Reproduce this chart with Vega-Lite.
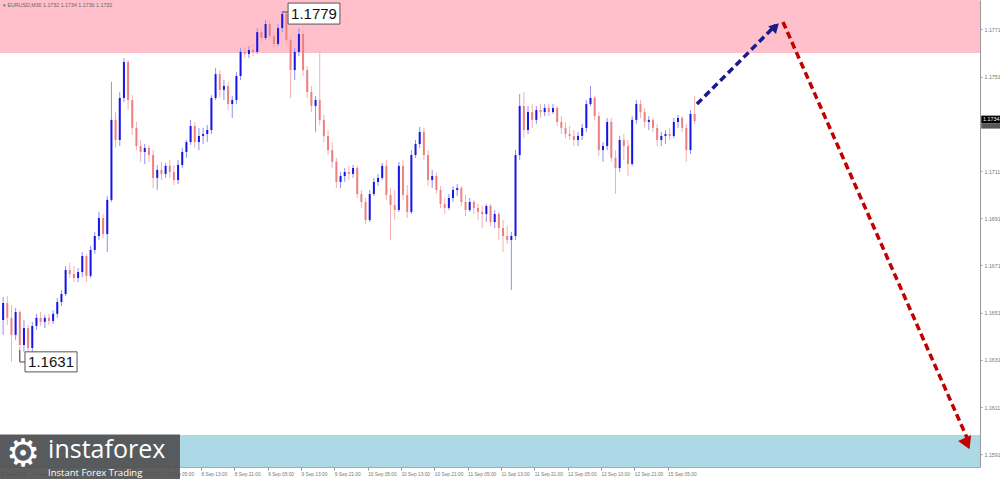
{
"$schema":"https://vega.github.io/schema/vega-lite/v6.json",
"width":980,"height":467,
"autosize":{"type":"none"},
"padding":{"left":0,"top":0,"right":20,"bottom":12},
"background":"white",
"config":{"view":{"stroke":null},"font":"Liberation Sans","scale":{"continuousPadding":0}},
"datasets":{
"candles":[
{"i":1,"o":1.16479,"h":1.16577,"l":1.16416,"c":1.16551},
{"i":3,"o":1.16551,"h":1.16581,"l":1.16458,"c":1.16488},
{"i":5,"o":1.16488,"h":1.16543,"l":1.16301,"c":1.16416},
{"i":7,"o":1.16416,"h":1.16530,"l":1.16394,"c":1.16513},
{"i":9,"o":1.16513,"h":1.16521,"l":1.16305,"c":1.16373},
{"i":11,"o":1.16373,"h":1.16479,"l":1.16344,"c":1.16445},
{"i":13,"o":1.16445,"h":1.16458,"l":1.16344,"c":1.16360},
{"i":15,"o":1.16360,"h":1.16471,"l":1.16344,"c":1.16454},
{"i":17,"o":1.16454,"h":1.16505,"l":1.16437,"c":1.16488},
{"i":19,"o":1.16488,"h":1.16513,"l":1.16454,"c":1.16471},
{"i":21,"o":1.16471,"h":1.16500,"l":1.16445,"c":1.16488},
{"i":23,"o":1.16488,"h":1.16505,"l":1.16458,"c":1.16475},
{"i":25,"o":1.16475,"h":1.16521,"l":1.16462,"c":1.16505},
{"i":27,"o":1.16505,"h":1.16572,"l":1.16488,"c":1.16555},
{"i":29,"o":1.16555,"h":1.16606,"l":1.16538,"c":1.16589},
{"i":31,"o":1.16589,"h":1.16708,"l":1.16581,"c":1.16691},
{"i":33,"o":1.16691,"h":1.16721,"l":1.16657,"c":1.16674},
{"i":35,"o":1.16674,"h":1.16708,"l":1.16640,"c":1.16657},
{"i":37,"o":1.16657,"h":1.16699,"l":1.16640,"c":1.16682},
{"i":39,"o":1.16682,"h":1.16767,"l":1.16661,"c":1.16750},
{"i":41,"o":1.16750,"h":1.16759,"l":1.16640,"c":1.16666},
{"i":43,"o":1.16666,"h":1.16793,"l":1.16657,"c":1.16776},
{"i":45,"o":1.16776,"h":1.16852,"l":1.16759,"c":1.16835},
{"i":47,"o":1.16835,"h":1.16937,"l":1.16818,"c":1.16911},
{"i":49,"o":1.16911,"h":1.16928,"l":1.16827,"c":1.16843},
{"i":51,"o":1.16843,"h":1.17004,"l":1.16767,"c":1.16988},
{"i":53,"o":1.16988,"h":1.17488,"l":1.16979,"c":1.17327},
{"i":55,"o":1.17327,"h":1.17360,"l":1.17208,"c":1.17242},
{"i":57,"o":1.17242,"h":1.17445,"l":1.17216,"c":1.17420},
{"i":59,"o":1.17420,"h":1.17589,"l":1.17403,"c":1.17572},
{"i":61,"o":1.17572,"h":1.17581,"l":1.17369,"c":1.17411},
{"i":63,"o":1.17411,"h":1.17432,"l":1.17263,"c":1.17293},
{"i":65,"o":1.17293,"h":1.17318,"l":1.17199,"c":1.17216},
{"i":67,"o":1.17216,"h":1.17242,"l":1.17149,"c":1.17191},
{"i":69,"o":1.17191,"h":1.17225,"l":1.17140,"c":1.17208},
{"i":71,"o":1.17208,"h":1.17221,"l":1.17149,"c":1.17178},
{"i":73,"o":1.17178,"h":1.17199,"l":1.17038,"c":1.17081},
{"i":75,"o":1.17081,"h":1.17136,"l":1.17030,"c":1.17115},
{"i":77,"o":1.17115,"h":1.17149,"l":1.17072,"c":1.17098},
{"i":79,"o":1.17098,"h":1.17144,"l":1.17081,"c":1.17132},
{"i":81,"o":1.17132,"h":1.17157,"l":1.17081,"c":1.17106},
{"i":83,"o":1.17106,"h":1.17136,"l":1.17051,"c":1.17072},
{"i":85,"o":1.17072,"h":1.17157,"l":1.17055,"c":1.17136},
{"i":87,"o":1.17136,"h":1.17208,"l":1.17123,"c":1.17191},
{"i":89,"o":1.17191,"h":1.17242,"l":1.17166,"c":1.17233},
{"i":91,"o":1.17233,"h":1.17327,"l":1.17221,"c":1.17301},
{"i":93,"o":1.17301,"h":1.17318,"l":1.17208,"c":1.17233},
{"i":95,"o":1.17233,"h":1.17293,"l":1.17199,"c":1.17259},
{"i":97,"o":1.17259,"h":1.17293,"l":1.17225,"c":1.17267},
{"i":99,"o":1.17267,"h":1.17305,"l":1.17233,"c":1.17284},
{"i":101,"o":1.17284,"h":1.17432,"l":1.17267,"c":1.17420},
{"i":103,"o":1.17420,"h":1.17547,"l":1.17411,"c":1.17521},
{"i":105,"o":1.17521,"h":1.17538,"l":1.17420,"c":1.17454},
{"i":107,"o":1.17454,"h":1.17496,"l":1.17411,"c":1.17471},
{"i":109,"o":1.17471,"h":1.17488,"l":1.17369,"c":1.17394},
{"i":111,"o":1.17394,"h":1.17428,"l":1.17335,"c":1.17411},
{"i":113,"o":1.17411,"h":1.17530,"l":1.17394,"c":1.17513},
{"i":115,"o":1.17513,"h":1.17632,"l":1.17496,"c":1.17615},
{"i":117,"o":1.17615,"h":1.17640,"l":1.17589,"c":1.17606},
{"i":119,"o":1.17606,"h":1.17640,"l":1.17589,"c":1.17623},
{"i":121,"o":1.17623,"h":1.17649,"l":1.17598,"c":1.17615},
{"i":123,"o":1.17615,"h":1.17716,"l":1.17606,"c":1.17699},
{"i":125,"o":1.17699,"h":1.17716,"l":1.17649,"c":1.17674},
{"i":127,"o":1.17674,"h":1.17750,"l":1.17665,"c":1.17733},
{"i":129,"o":1.17733,"h":1.17750,"l":1.17665,"c":1.17682},
{"i":131,"o":1.17682,"h":1.17699,"l":1.17632,"c":1.17649},
{"i":133,"o":1.17649,"h":1.17733,"l":1.17640,"c":1.17716},
{"i":135,"o":1.17716,"h":1.17788,"l":1.17699,"c":1.17776},
{"i":137,"o":1.17776,"h":1.17784,"l":1.17644,"c":1.17665},
{"i":139,"o":1.17665,"h":1.17682,"l":1.17420,"c":1.17538},
{"i":141,"o":1.17538,"h":1.17632,"l":1.17496,"c":1.17615},
{"i":143,"o":1.17615,"h":1.17716,"l":1.17598,"c":1.17691},
{"i":145,"o":1.17691,"h":1.17708,"l":1.17513,"c":1.17538},
{"i":147,"o":1.17538,"h":1.17555,"l":1.17420,"c":1.17445},
{"i":149,"o":1.17445,"h":1.17471,"l":1.17360,"c":1.17386},
{"i":151,"o":1.17386,"h":1.17428,"l":1.17276,"c":1.17411},
{"i":153,"o":1.17411,"h":1.17615,"l":1.17305,"c":1.17327},
{"i":155,"o":1.17327,"h":1.17348,"l":1.17233,"c":1.17259},
{"i":157,"o":1.17259,"h":1.17284,"l":1.17178,"c":1.17199},
{"i":159,"o":1.17199,"h":1.17233,"l":1.17123,"c":1.17149},
{"i":161,"o":1.17149,"h":1.17166,"l":1.17038,"c":1.17064},
{"i":163,"o":1.17064,"h":1.17106,"l":1.17038,"c":1.17089},
{"i":165,"o":1.17089,"h":1.17123,"l":1.17064,"c":1.17106},
{"i":167,"o":1.17106,"h":1.17132,"l":1.17072,"c":1.17098},
{"i":169,"o":1.17098,"h":1.17136,"l":1.17081,"c":1.17123},
{"i":171,"o":1.17123,"h":1.17132,"l":1.16996,"c":1.17013},
{"i":173,"o":1.17013,"h":1.17030,"l":1.16954,"c":1.16979},
{"i":175,"o":1.16979,"h":1.16996,"l":1.16886,"c":1.16903},
{"i":177,"o":1.16903,"h":1.17030,"l":1.16894,"c":1.17013},
{"i":179,"o":1.17013,"h":1.17081,"l":1.17004,"c":1.17064},
{"i":181,"o":1.17064,"h":1.17098,"l":1.17047,"c":1.17081},
{"i":183,"o":1.17081,"h":1.17144,"l":1.17072,"c":1.17132},
{"i":185,"o":1.17132,"h":1.17157,"l":1.16988,"c":1.17009},
{"i":187,"o":1.17009,"h":1.17038,"l":1.16818,"c":1.16966},
{"i":189,"o":1.16966,"h":1.17030,"l":1.16903,"c":1.16945},
{"i":191,"o":1.16945,"h":1.17149,"l":1.16937,"c":1.17132},
{"i":193,"o":1.17132,"h":1.17157,"l":1.16988,"c":1.17009},
{"i":195,"o":1.17009,"h":1.17051,"l":1.16911,"c":1.16937},
{"i":197,"o":1.16937,"h":1.17199,"l":1.16928,"c":1.17178},
{"i":199,"o":1.17178,"h":1.17242,"l":1.17166,"c":1.17225},
{"i":201,"o":1.17225,"h":1.17297,"l":1.17208,"c":1.17276},
{"i":203,"o":1.17276,"h":1.17293,"l":1.17157,"c":1.17178},
{"i":205,"o":1.17178,"h":1.17199,"l":1.17047,"c":1.17072},
{"i":207,"o":1.17072,"h":1.17115,"l":1.17038,"c":1.17089},
{"i":209,"o":1.17089,"h":1.17106,"l":1.17013,"c":1.17030},
{"i":211,"o":1.17030,"h":1.17047,"l":1.16954,"c":1.16971},
{"i":213,"o":1.16971,"h":1.16996,"l":1.16928,"c":1.16954},
{"i":215,"o":1.16954,"h":1.17013,"l":1.16945,"c":1.16996},
{"i":217,"o":1.16996,"h":1.17047,"l":1.16979,"c":1.17030},
{"i":219,"o":1.17030,"h":1.17055,"l":1.17004,"c":1.17038},
{"i":221,"o":1.17038,"h":1.17047,"l":1.16962,"c":1.16979},
{"i":223,"o":1.16979,"h":1.17009,"l":1.16920,"c":1.16945},
{"i":225,"o":1.16945,"h":1.16996,"l":1.16937,"c":1.16979},
{"i":227,"o":1.16979,"h":1.16988,"l":1.16928,"c":1.16954},
{"i":229,"o":1.16954,"h":1.16971,"l":1.16903,"c":1.16937},
{"i":231,"o":1.16937,"h":1.16966,"l":1.16869,"c":1.16928},
{"i":233,"o":1.16928,"h":1.16971,"l":1.16894,"c":1.16962},
{"i":235,"o":1.16962,"h":1.16971,"l":1.16877,"c":1.16894},
{"i":237,"o":1.16894,"h":1.16945,"l":1.16869,"c":1.16928},
{"i":239,"o":1.16928,"h":1.16937,"l":1.16818,"c":1.16869},
{"i":241,"o":1.16869,"h":1.16903,"l":1.16767,"c":1.16835},
{"i":243,"o":1.16835,"h":1.16877,"l":1.16801,"c":1.16818},
{"i":245,"o":1.16818,"h":1.16852,"l":1.16606,"c":1.16835},
{"i":247,"o":1.16835,"h":1.17199,"l":1.16818,"c":1.17178},
{"i":249,"o":1.17178,"h":1.17437,"l":1.17157,"c":1.17386},
{"i":251,"o":1.17386,"h":1.17445,"l":1.17250,"c":1.17284},
{"i":253,"o":1.17284,"h":1.17386,"l":1.17267,"c":1.17360},
{"i":255,"o":1.17360,"h":1.17394,"l":1.17293,"c":1.17327},
{"i":257,"o":1.17327,"h":1.17386,"l":1.17310,"c":1.17369},
{"i":259,"o":1.17369,"h":1.17394,"l":1.17335,"c":1.17360},
{"i":261,"o":1.17360,"h":1.17394,"l":1.17343,"c":1.17377},
{"i":263,"o":1.17377,"h":1.17394,"l":1.17343,"c":1.17360},
{"i":265,"o":1.17360,"h":1.17394,"l":1.17352,"c":1.17377},
{"i":267,"o":1.17377,"h":1.17386,"l":1.17301,"c":1.17318},
{"i":269,"o":1.17318,"h":1.17343,"l":1.17267,"c":1.17293},
{"i":271,"o":1.17293,"h":1.17318,"l":1.17250,"c":1.17267},
{"i":273,"o":1.17267,"h":1.17301,"l":1.17242,"c":1.17259},
{"i":275,"o":1.17259,"h":1.17284,"l":1.17216,"c":1.17242},
{"i":277,"o":1.17242,"h":1.17276,"l":1.17216,"c":1.17259},
{"i":279,"o":1.17259,"h":1.17310,"l":1.17242,"c":1.17293},
{"i":281,"o":1.17293,"h":1.17411,"l":1.17276,"c":1.17394},
{"i":283,"o":1.17394,"h":1.17471,"l":1.17386,"c":1.17420},
{"i":285,"o":1.17420,"h":1.17428,"l":1.17327,"c":1.17343},
{"i":287,"o":1.17343,"h":1.17360,"l":1.17174,"c":1.17199},
{"i":289,"o":1.17199,"h":1.17233,"l":1.17149,"c":1.17216},
{"i":291,"o":1.17216,"h":1.17335,"l":1.17199,"c":1.17318},
{"i":293,"o":1.17318,"h":1.17335,"l":1.17149,"c":1.17166},
{"i":295,"o":1.17166,"h":1.17199,"l":1.17013,"c":1.17123},
{"i":297,"o":1.17123,"h":1.17259,"l":1.17106,"c":1.17242},
{"i":299,"o":1.17242,"h":1.17267,"l":1.17157,"c":1.17216},
{"i":301,"o":1.17216,"h":1.17242,"l":1.17089,"c":1.17140},
{"i":303,"o":1.17140,"h":1.17343,"l":1.17132,"c":1.17327},
{"i":305,"o":1.17327,"h":1.17411,"l":1.17310,"c":1.17394},
{"i":307,"o":1.17394,"h":1.17411,"l":1.17335,"c":1.17360},
{"i":309,"o":1.17360,"h":1.17377,"l":1.17293,"c":1.17318},
{"i":311,"o":1.17318,"h":1.17343,"l":1.17284,"c":1.17327},
{"i":313,"o":1.17327,"h":1.17335,"l":1.17276,"c":1.17293},
{"i":315,"o":1.17293,"h":1.17310,"l":1.17216,"c":1.17242},
{"i":317,"o":1.17242,"h":1.17276,"l":1.17216,"c":1.17259},
{"i":319,"o":1.17259,"h":1.17284,"l":1.17225,"c":1.17267},
{"i":321,"o":1.17267,"h":1.17293,"l":1.17242,"c":1.17259},
{"i":323,"o":1.17259,"h":1.17335,"l":1.17250,"c":1.17318},
{"i":325,"o":1.17318,"h":1.17348,"l":1.17293,"c":1.17335},
{"i":327,"o":1.17335,"h":1.17343,"l":1.17276,"c":1.17293},
{"i":329,"o":1.17293,"h":1.17310,"l":1.17149,"c":1.17199},
{"i":331,"o":1.17199,"h":1.17369,"l":1.17183,"c":1.17352},
{"i":333,"o":1.17352,"h":1.17428,"l":1.17310,"c":1.17322}
]
},
"layer":[
{"data":{"values":[{"x1":-0.5,"x2":470,"y1":1.1761,"y2":1.17835}]},"mark":{"type":"rect","color":"#ffc0cb"},
 "encoding":{"x":{"field":"x1","type":"quantitative","scale":{"domain":[-0.5,470],"nice":false,"zero":false,"padding":0},
   "axis":{"values":[0,16,32,48,64,80,96,112,128,144,160,176,192,208,224,240,256,272,288,304,320],
   "labelExpr":"['4 Sep 2025','4 Sep 21:00','5 Sep 05:00','5 Sep 13:00','5 Sep 21:00','8 Sep 05:00','8 Sep 13:00','8 Sep 21:00','9 Sep 05:00','9 Sep 13:00','9 Sep 21:00','10 Sep 05:00','10 Sep 13:00','10 Sep 21:00','11 Sep 05:00','11 Sep 13:00','11 Sep 21:00','12 Sep 05:00','12 Sep 13:00','12 Sep 21:00','15 Sep 05:00'][round(datum.value/16)]",
   "labelAlign":"left","labelFontSize":4.8,"labelColor":"#777","labelPadding":1,"tickSize":3,"tickColor":"#999","domainColor":"#aaa","grid":false,"title":null,"labelOverlap":false,"labelBound":false,"labelFlush":false}},
  "x2":{"field":"x2"},
  "y":{"field":"y1","type":"quantitative","scale":{"domain":[1.15856,1.17835],"nice":false,"zero":false,"padding":0},
   "axis":{"orient":"right","values":[1.1591,1.1601,1.1611,1.1621,1.1631,1.1641,1.1651,1.1661,1.1671,1.1681,1.1691,1.1701,1.1711,1.1721,1.1731,1.1741,1.1751,1.1761,1.1771,1.1781],
   "format":".4f","labelFontSize":5.3,"labelColor":"#777","tickSize":2,"tickColor":"#999","domainColor":"#999","labelPadding":2,"grid":false,"title":null,"labelOverlap":false}},
  "y2":{"field":"y2"}}},
{"data":{"values":[{"x1":-0.5,"x2":470,"y1":1.15856,"y2":1.15992}]},"mark":{"type":"rect","color":"#add8e6"},
 "encoding":{"x":{"field":"x1","type":"quantitative","scale":{"domain":[-0.5,470],"nice":false,"zero":false,"padding":0}},"x2":{"field":"x2"},
  "y":{"field":"y1","type":"quantitative","scale":{"domain":[1.15856,1.17835],"nice":false,"zero":false,"padding":0}},"y2":{"field":"y2"}}},
{"data":{"name":"candles"},"mark":{"type":"rule","strokeWidth":1},
 "encoding":{"x":{"field":"i","type":"quantitative","scale":{"domain":[-0.5,470],"nice":false,"zero":false,"padding":0}},
  "y":{"field":"l","type":"quantitative","scale":{"domain":[1.15856,1.17835],"nice":false,"zero":false,"padding":0}},"y2":{"field":"h"},
  "color":{"condition":{"test":"datum.c >= datum.o","value":"#9090f0"},"value":"#f4b0b0"}}},
{"data":{"name":"candles"},"mark":{"type":"bar","size":2},
 "encoding":{"x":{"field":"i","type":"quantitative","scale":{"domain":[-0.5,470],"nice":false,"zero":false,"padding":0}},
  "y":{"field":"o","type":"quantitative","scale":{"domain":[1.15856,1.17835],"nice":false,"zero":false,"padding":0}},"y2":{"field":"c"},
  "color":{"condition":{"test":"datum.c >= datum.o","value":"#1515e6"},"value":"#ee8080"}}},
{"data":{"values":[{"i":334.1,"p":1.17394},{"i":372,"p":1.17729}]},"mark":{"type":"line","strokeDash":[7,4],"strokeWidth":3.5,"color":"#1b1b86"},
 "encoding":{"x":{"field":"i","type":"quantitative","scale":{"domain":[-0.5,470],"nice":false,"zero":false,"padding":0}},
  "y":{"field":"p","type":"quantitative","scale":{"domain":[1.15856,1.17835],"nice":false,"zero":false,"padding":0}}}},
{"data":{"values":[{"i":375.4,"p":1.17742},{"i":464.2,"p":1.15971}]},"mark":{"type":"line","strokeDash":[7,4],"strokeWidth":3.5,"color":"#c20000"},
 "encoding":{"x":{"field":"i","type":"quantitative","scale":{"domain":[-0.5,470],"nice":false,"zero":false,"padding":0}},
  "y":{"field":"p","type":"quantitative","scale":{"domain":[1.15856,1.17835],"nice":false,"zero":false,"padding":0}}}},
{"data":{"values":[{"i":371.8,"p":1.17722}]},"mark":{"type":"point","shape":"triangle-up","filled":true,"opacity":1,"color":"#1b1b86","angle":45,"size":120},
 "encoding":{"x":{"field":"i","type":"quantitative","scale":{"domain":[-0.5,470],"nice":false,"zero":false,"padding":0}},
  "y":{"field":"p","type":"quantitative","scale":{"domain":[1.15856,1.17835],"nice":false,"zero":false,"padding":0}}}},
{"data":{"values":[{"i":463.8,"p":1.15955}]},"mark":{"type":"point","shape":"triangle-up","filled":true,"opacity":1,"color":"#c20000","angle":156,"size":200},
 "encoding":{"x":{"field":"i","type":"quantitative","scale":{"domain":[-0.5,470],"nice":false,"zero":false,"padding":0}},
  "y":{"field":"p","type":"quantitative","scale":{"domain":[1.15856,1.17835],"nice":false,"zero":false,"padding":0}}}},
{"data":{"values":[{"x1":135,"x2":137.8,"y1":1.17784,"y2":1.17784},{"x1":9,"x2":9,"y1":1.16352,"y2":1.16301},{"x1":9,"x2":11.5,"y1":1.16301,"y2":1.16301}]},
 "mark":{"type":"rule","color":"#444","strokeWidth":1},
 "encoding":{"x":{"field":"x1","type":"quantitative","scale":{"domain":[-0.5,470],"nice":false,"zero":false,"padding":0}},"x2":{"field":"x2"},
  "y":{"field":"y1","type":"quantitative","scale":{"domain":[1.15856,1.17835],"nice":false,"zero":false,"padding":0}},"y2":{"field":"y2"}}},
{"data":{"values":[{"x1":137.8,"x2":162.7,"y1":1.17822,"y2":1.17733,"x":150.25,"y":1.17777,"t":"1.1779"},{"x1":11.5,"x2":36.5,"y1":1.16344,"y2":1.16259,"x":24,"y":1.16301,"t":"1.1631"}]},
 "layer":[
 {"mark":{"type":"rect","fill":"white","stroke":"#555","strokeWidth":1},
  "encoding":{"x":{"field":"x1","type":"quantitative","scale":{"domain":[-0.5,470],"nice":false,"zero":false,"padding":0}},"x2":{"field":"x2"},
   "y":{"field":"y1","type":"quantitative","scale":{"domain":[1.15856,1.17835],"nice":false,"zero":false,"padding":0}},"y2":{"field":"y2"}}},
 {"mark":{"type":"text","font":"Liberation Sans","fontSize":15,"color":"#111","align":"center","baseline":"middle"},
  "encoding":{"x":{"field":"x","type":"quantitative","scale":{"domain":[-0.5,470],"nice":false,"zero":false,"padding":0}},
   "y":{"field":"y","type":"quantitative","scale":{"domain":[1.15856,1.17835],"nice":false,"zero":false,"padding":0}},"text":{"field":"t"}}}
 ]},
{"data":{"values":[{"i":0.9,"p":1.17813,"t":"▾ EURUSD,M30  1.1732 1.1734 1.1730 1.1732"}]},
 "mark":{"type":"text","fontSize":5.3,"color":"#666","align":"left","baseline":"middle"},
 "encoding":{"x":{"field":"i","type":"quantitative","scale":{"domain":[-0.5,470],"nice":false,"zero":false,"padding":0}},
  "y":{"field":"p","type":"quantitative","scale":{"domain":[1.15856,1.17835],"nice":false,"zero":false,"padding":0}},"text":{"field":"t"}}},
{"data":{"values":[{"x1":470.6,"x2":481,"y1":1.17345,"y2":1.17312}]},
 "mark":{"type":"rect","color":"#000000"},
 "encoding":{"x":{"field":"x1","type":"quantitative","scale":{"domain":[-0.5,470],"nice":false,"zero":false,"padding":0}},"x2":{"field":"x2"},
  "y":{"field":"y1","type":"quantitative","scale":{"domain":[1.15856,1.17835],"nice":false,"zero":false,"padding":0}},"y2":{"field":"y2"}}},
{"data":{"values":[{"x1":470.6,"x2":481,"y1":1.17312,"y2":1.17290}]},
 "mark":{"type":"rect","color":"#555555"},
 "encoding":{"x":{"field":"x1","type":"quantitative","scale":{"domain":[-0.5,470],"nice":false,"zero":false,"padding":0}},"x2":{"field":"x2"},
  "y":{"field":"y1","type":"quantitative","scale":{"domain":[1.15856,1.17835],"nice":false,"zero":false,"padding":0}},"y2":{"field":"y2"}}},
{"data":{"values":[{"i":471.5,"p":1.17329,"t":"1.1734"}]},
 "mark":{"type":"text","fontSize":5.3,"color":"white","align":"left","baseline":"middle"},
 "encoding":{"x":{"field":"i","type":"quantitative","scale":{"domain":[-0.5,470],"nice":false,"zero":false,"padding":0}},
  "y":{"field":"p","type":"quantitative","scale":{"domain":[1.15856,1.17835],"nice":false,"zero":false,"padding":0}},"text":{"field":"t"}}},
{"data":{"values":[{"x1":-0.5,"x2":85.9,"y1":1.15994,"y2":1.15805}]},
 "mark":{"type":"rect","fill":"#4e4e4e","opacity":0.9},
 "encoding":{"x":{"field":"x1","type":"quantitative","scale":{"domain":[-0.5,470],"nice":false,"zero":false,"padding":0}},"x2":{"field":"x2"},
  "y":{"field":"y1","type":"quantitative","scale":{"domain":[1.15856,1.17835],"nice":false,"zero":false,"padding":0}},"y2":{"field":"y2"}}},
{"data":{"values":[{"i":10.6,"p":1.15907,"t":"⚙"}]},
 "mark":{"type":"text","color":"white","align":"center","baseline":"middle","font":"DejaVu Sans","fontSize":38},
 "encoding":{"x":{"field":"i","type":"quantitative","scale":{"domain":[-0.5,470],"nice":false,"zero":false,"padding":0}},
  "y":{"field":"p","type":"quantitative","scale":{"domain":[1.15856,1.17835],"nice":false,"zero":false,"padding":0}},"text":{"field":"t"}}},
{"data":{"values":[{"i":22.6,"p":1.15894,"t":"instaforex"}]},
 "mark":{"type":"text","color":"white","align":"left","baseline":"alphabetic","font":"Open Sans","fontSize":25},
 "encoding":{"x":{"field":"i","type":"quantitative","scale":{"domain":[-0.5,470],"nice":false,"zero":false,"padding":0}},
  "y":{"field":"p","type":"quantitative","scale":{"domain":[1.15856,1.17835],"nice":false,"zero":false,"padding":0}},"text":{"field":"t"}}},
{"data":{"values":[{"i":22.6,"p":1.15818,"t":"Instant Forex Trading"}]},
 "mark":{"type":"text","color":"white","align":"left","baseline":"alphabetic","font":"Open Sans","fontSize":9.5},
 "encoding":{"x":{"field":"i","type":"quantitative","scale":{"domain":[-0.5,470],"nice":false,"zero":false,"padding":0}},
  "y":{"field":"p","type":"quantitative","scale":{"domain":[1.15856,1.17835],"nice":false,"zero":false,"padding":0}},"text":{"field":"t"}}}
]
}
